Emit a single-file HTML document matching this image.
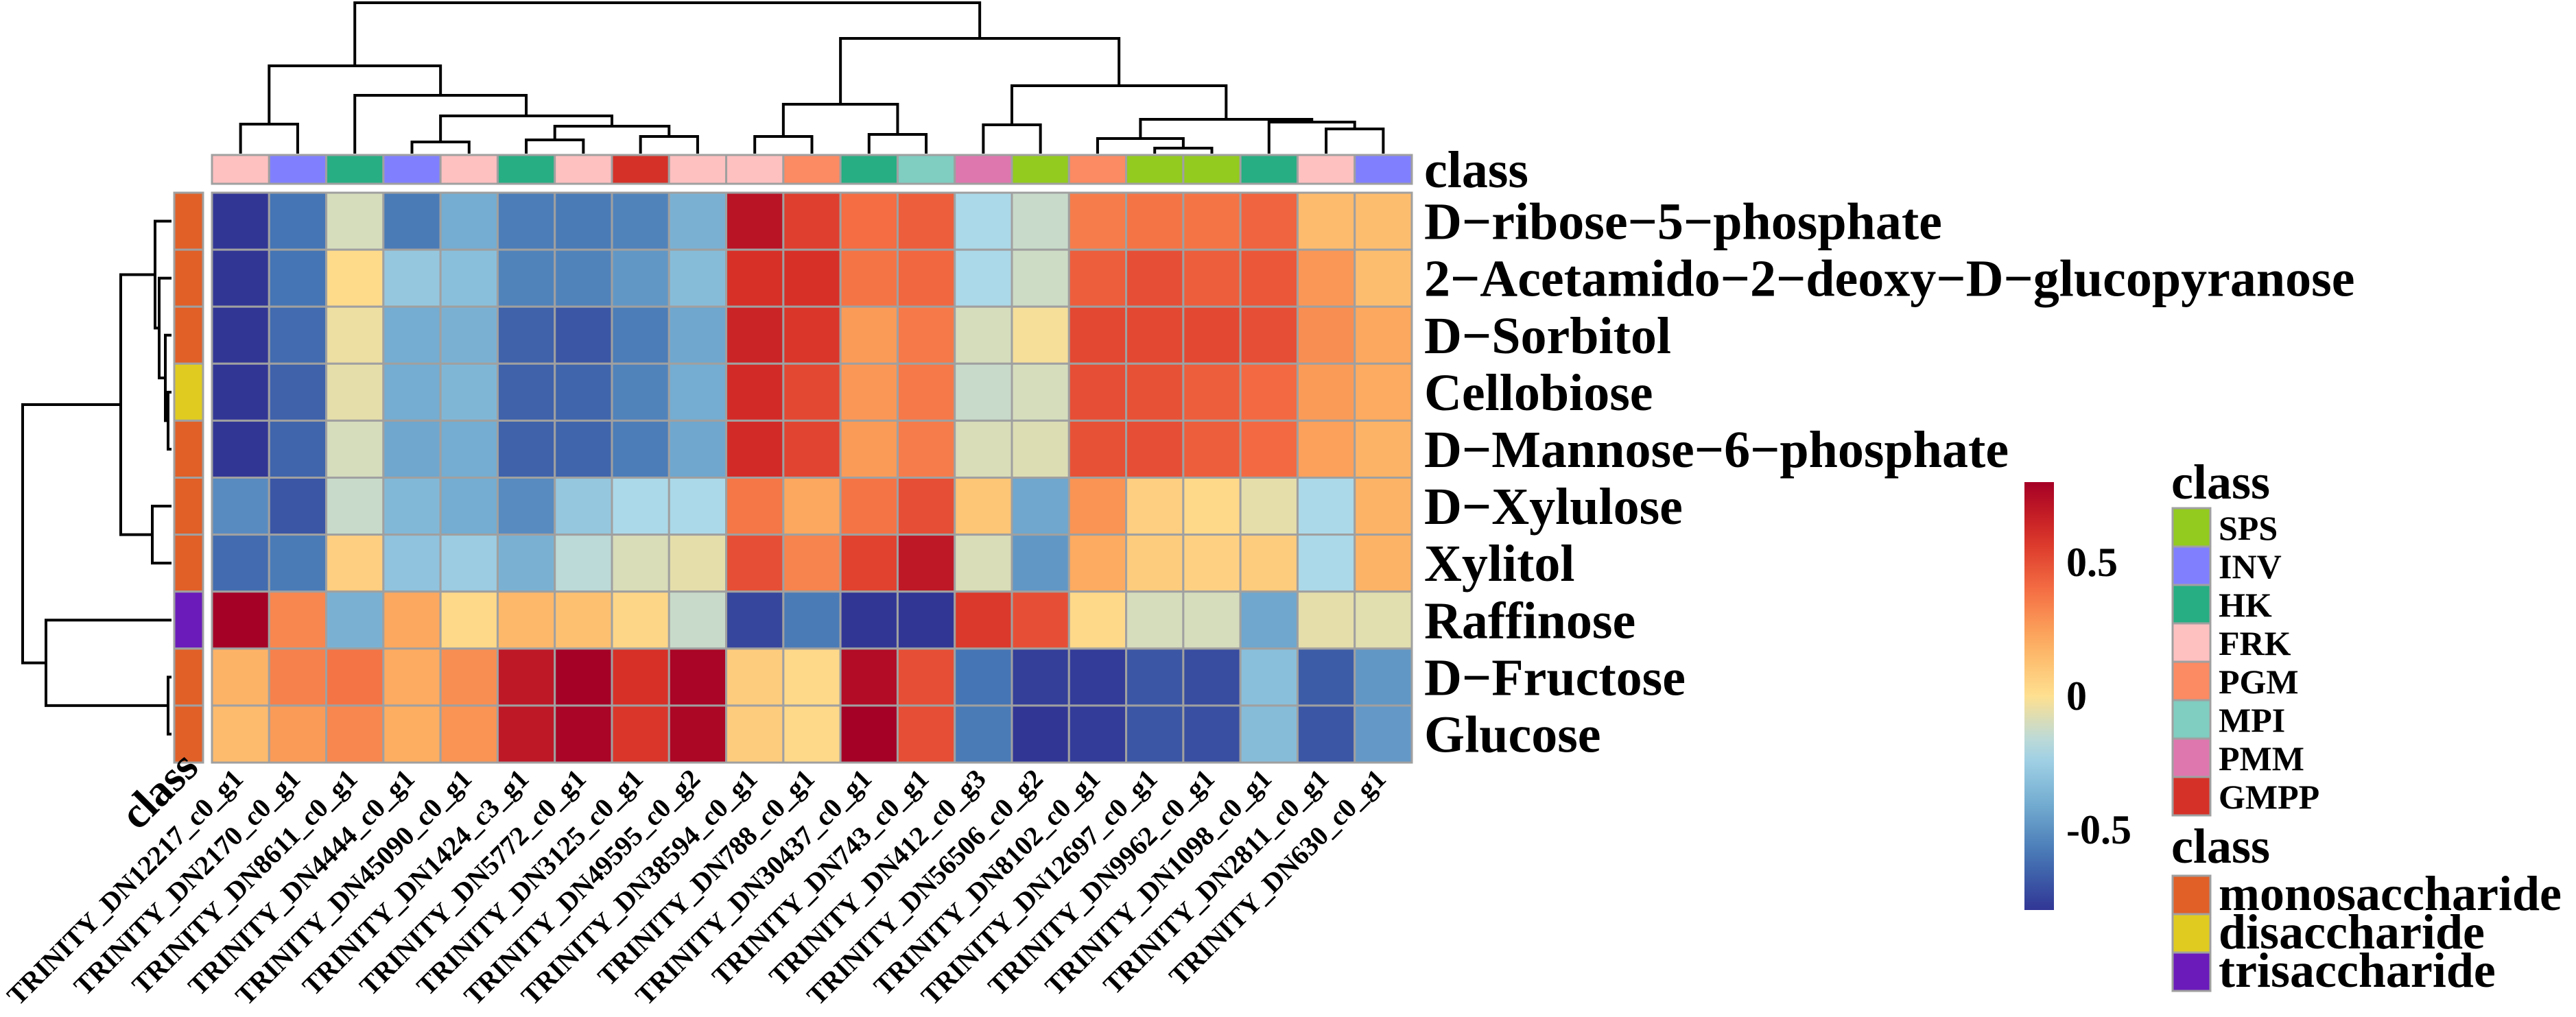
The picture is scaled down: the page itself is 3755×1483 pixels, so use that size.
<!DOCTYPE html>
<html><head><meta charset="utf-8"><style>
html,body{margin:0;padding:0;background:#fff;}
svg{display:block;font-family:"Liberation Serif",serif;font-weight:bold;}
</style></head><body>
<svg id="chart" width="3755" height="1483" viewBox="0 0 3755 1483" xmlns="http://www.w3.org/2000/svg"></svg>
<script>
const rowNames = ["D−ribose−5−phosphate","2−Acetamido−2−deoxy−D−glucopyranose","D−Sorbitol","Cellobiose","D−Mannose−6−phosphate","D−Xylulose","Xylitol","Raffinose","D−Fructose","Glucose"];
const colNames = ["TRINITY_DN12217_c0_g1","TRINITY_DN2170_c0_g1","TRINITY_DN8611_c0_g1","TRINITY_DN4444_c0_g1","TRINITY_DN45090_c0_g1","TRINITY_DN1424_c3_g1","TRINITY_DN5772_c0_g1","TRINITY_DN3125_c0_g1","TRINITY_DN49595_c0_g2","TRINITY_DN38594_c0_g1","TRINITY_DN788_c0_g1","TRINITY_DN30437_c0_g1","TRINITY_DN743_c0_g1","TRINITY_DN412_c0_g3","TRINITY_DN56506_c0_g2","TRINITY_DN8102_c0_g1","TRINITY_DN12697_c0_g1","TRINITY_DN9962_c0_g1","TRINITY_DN1098_c0_g1","TRINITY_DN2811_c0_g1","TRINITY_DN630_c0_g1"];
const colClass = ["FRK","INV","HK","INV","FRK","HK","FRK","GMPP","FRK","FRK","PGM","HK","MPI","PMM","SPS","PGM","SPS","SPS","HK","FRK","INV"];
const rowClass = ["monosaccharide","monosaccharide","monosaccharide","disaccharide","monosaccharide","monosaccharide","monosaccharide","trisaccharide","monosaccharide","monosaccharide"];
const colClassNames = ["SPS","INV","HK","FRK","PGM","MPI","PMM","GMPP"];
const colClassColors = ["#93CB1E","#8080FF","#27AE82","#FFC0C0","#FC8A62","#80CDC1","#DE77AE","#D53128"];
const rowClassNames = ["monosaccharide","disaccharide","trisaccharide"];
const rowClassColors = ["#E06028","#E0CC20","#6A1BBA"];
const values = [
 [-0.8,-0.6,-0.1,-0.58,-0.4,-0.57,-0.58,-0.55,-0.38,0.72,0.55,0.4,0.45,-0.2,-0.13,0.35,0.38,0.38,0.43,0.15,0.14],
 [-0.8,-0.6,0.02,-0.28,-0.32,-0.55,-0.55,-0.48,-0.33,0.6,0.6,0.38,0.42,-0.2,-0.12,0.45,0.5,0.45,0.47,0.27,0.14],
 [-0.8,-0.63,-0.04,-0.4,-0.38,-0.66,-0.7,-0.57,-0.42,0.65,0.58,0.26,0.36,-0.1,-0.02,0.52,0.52,0.52,0.5,0.3,0.22],
 [-0.8,-0.66,-0.06,-0.4,-0.36,-0.66,-0.65,-0.55,-0.4,0.62,0.52,0.27,0.36,-0.13,-0.1,0.5,0.49,0.45,0.41,0.26,0.21],
 [-0.8,-0.65,-0.1,-0.42,-0.4,-0.66,-0.65,-0.57,-0.42,0.62,0.53,0.26,0.35,-0.09,-0.08,0.49,0.5,0.45,0.41,0.24,0.18],
 [-0.52,-0.7,-0.13,-0.35,-0.4,-0.52,-0.28,-0.2,-0.2,0.37,0.22,0.38,0.5,0.11,-0.42,0.28,0.07,0.03,-0.06,-0.2,0.18],
 [-0.63,-0.58,0.07,-0.3,-0.26,-0.38,-0.16,-0.09,-0.06,0.5,0.33,0.54,0.7,-0.09,-0.48,0.21,0.08,0.06,0.08,-0.2,0.18],
 [0.8,0.32,-0.38,0.22,0.03,0.16,0.13,0.04,-0.13,-0.75,-0.58,-0.8,-0.8,0.57,0.5,0.03,-0.1,-0.1,-0.42,-0.06,-0.07],
 [0.18,0.34,0.38,0.21,0.3,0.7,0.8,0.6,0.78,0.08,0.03,0.75,0.5,-0.6,-0.77,-0.78,-0.7,-0.73,-0.32,-0.68,-0.48],
 [0.15,0.26,0.32,0.2,0.28,0.7,0.78,0.58,0.77,0.08,0.03,0.8,0.5,-0.58,-0.8,-0.78,-0.7,-0.72,-0.33,-0.7,-0.47]
];
const colMerges = [[-1,-2],[-4,-5],[-6,-7],[-8,-9],[3,4],[2,5],[-3,6],[1,7],[-10,-11],[-12,-13],[9,10],[-14,-15],[-17,-18],[-16,13],[-20,-21],[-19,15],[14,16],[12,17],[11,18],[8,19]];
const colHeights = [43,17,20,25,40,55,85,128,25,28,72,42,8,22,36,46,50,99,168,220];
const rowMerges = [[-4,-5],[-3,1],[-2,2],[-1,3],[-6,-7],[4,5],[-9,-10],[-8,7],[6,8]];
const rowHeights = [5,9,18,24,28,74,5,183,217];
const cbTicks = [0.5,0,-0.5];
const cbTickLabels = ["0.5","0","-0.5"];

const NS="http://www.w3.org/2000/svg";
const svg=document.getElementById('chart');
function mk(tag,attrs,parent){const e=document.createElementNS(NS,tag);for(const k in attrs)e.setAttribute(k,attrs[k]);(parent||svg).appendChild(e);return e;}
const X0=309,X1=2058,Y0=281,Y1=1112;
const nC=colNames.length,nR=rowNames.length;
const cw=(X1-X0)/nC,ch=(Y1-Y0)/nR;
const xC=i=>X0+i*cw, yR=j=>Y0+j*ch;
const stops=[[-0.8,"#313695"],[-0.6,"#4575B4"],[-0.4,"#74ADD1"],[-0.2,"#ABD9E9"],[0,"#FEE090"],[0.2,"#FDAE61"],[0.4,"#F46D43"],[0.6,"#D73027"],[0.8,"#A50026"]];
function hex(c){return [1,3,5].map(i=>parseInt(c.substr(i,2),16));}
function color(v){v=Math.max(-0.8,Math.min(0.8,v));for(let i=0;i<stops.length-1;i++){const[a,ca]=stops[i],[b,cb]=stops[i+1];if(v<=b){const t=(v-a)/(b-a),A=hex(ca),B=hex(cb);return "rgb("+A.map((x,k)=>Math.round(x+(B[k]-x)*t)).join(",")+")";}}return stops[stops.length-1][1];}

const gCells=mk('g',{});


for(let r=0;r<nR;r++)for(let c=0;c<nC;c++){
 const el=mk('rect',{x:xC(c),y:yR(r),width:cw,height:ch,fill:color(values[r][c]),stroke:"#A0A0A0","stroke-width":3},gCells);
 
 
}
const colColorMap={};colClassNames.forEach((n,i)=>colColorMap[n]=colClassColors[i]);
const rowColorMap={};rowClassNames.forEach((n,i)=>rowColorMap[n]=rowClassColors[i]);
for(let c=0;c<nC;c++){
 const el=mk('rect',{x:xC(c),y:226,width:cw,height:42,fill:colColorMap[colClass[c]],stroke:"#A0A0A0","stroke-width":3});
 
 
}
for(let r=0;r<nR;r++){
 const el=mk('rect',{x:254,y:yR(r),width:42,height:ch,fill:rowColorMap[rowClass[r]],stroke:"#A0A0A0","stroke-width":3});
 
 
}
for(let r=0;r<nR;r++){
 const t=mk('text',{x:2076,y:yR(r)+ch/2+26,"font-size":76,fill:"#000"});t.textContent=rowNames[r];
 
 
}
const ct=mk('text',{x:2076,y:247+26,"font-size":76});ct.textContent="class";


for(let c=0;c<nC;c++){
 const cx=xC(c)+cw/2+6,cy=1138;
 const t=mk('text',{x:cx,y:cy,"font-size":40,"text-anchor":"end",transform:"rotate(-45 "+cx+" "+cy+")"});t.textContent=colNames[c];
 
 
}
const rc=mk('text',{x:292,y:1122,"font-size":64,"text-anchor":"end",transform:"rotate(-45 292 1122)"});rc.textContent="class";



function dendro(merges,heights,leafPos,drawSeg){
 const pos=[],ht=[];
 function get(i){return i<0?[leafPos(-i-1),0]:[pos[i-1],ht[i-1]];}
 merges.forEach((m,k)=>{const[a,ha]=get(m[0]),[b,hb]=get(m[1]);const h=heights[k];drawSeg(a,ha,b,hb,h);pos.push((a+b)/2);ht.push(h);});
}
const gTop=mk('g',{stroke:"#000","stroke-width":4,fill:"none"});


dendro(colMerges,colHeights,i=>xC(i)+cw/2,(a,ha,b,hb,h)=>{
 const Y=v=>224-v;
 mk('polyline',{points:`${a},${Y(ha)} ${a},${Y(h)} ${b},${Y(h)} ${b},${Y(hb)}`},gTop);
});
const gLeft=mk('g',{stroke:"#000","stroke-width":4,fill:"none"});


dendro(rowMerges,rowHeights,i=>yR(i)+ch/2,(a,ha,b,hb,h)=>{
 const X=v=>250-v;
 mk('polyline',{points:`${X(ha)},${a} ${X(h)},${a} ${X(h)},${b} ${X(hb)},${b}`},gLeft);
});

const CB0=703,CB1=1327,vmax=0.8,vmin=-0.8;
const cbY=v=>CB0+(vmax-v)/(vmax-vmin)*(CB1-CB0);
const defs=mk('defs',{});
const lg=mk('linearGradient',{id:"cbg",x1:0,y1:0,x2:0,y2:1},defs);
for(let i=0;i<=20;i++){const v=vmax-(vmax-vmin)*i/20;mk('stop',{offset:(i/20),"stop-color":color(v)},lg);}
const cb=mk('rect',{x:2951,y:CB0,width:43,height:CB1-CB0,fill:"url(#cbg)"});


cbTicks.forEach((v,i)=>{
 const t=mk('text',{x:3012,y:cbY(v)+20,"font-size":60});t.textContent=cbTickLabels[i];
 
 
});

const l1=mk('text',{x:3165,y:727,"font-size":72});l1.textContent="class";


colClassNames.forEach((n,i)=>{
 const y=741+i*56;
 const r=mk('rect',{x:3167,y:y,width:55,height:56,fill:colClassColors[i],stroke:"#A0A0A0","stroke-width":3});
 
 
 const t=mk('text',{x:3234,y:y+46,"font-size":50});t.textContent=n;
 
 
});
const l2=mk('text',{x:3165,y:1258,"font-size":72});l2.textContent="class";


rowClassNames.forEach((n,i)=>{
 const y=1277+i*56;
 const r=mk('rect',{x:3167,y:y,width:55,height:56,fill:rowClassColors[i],stroke:"#A0A0A0","stroke-width":3});
 
 
 const t=mk('text',{x:3234,y:y+50,"font-size":72});t.textContent=n;
 
 
});
</script>
</body></html>
